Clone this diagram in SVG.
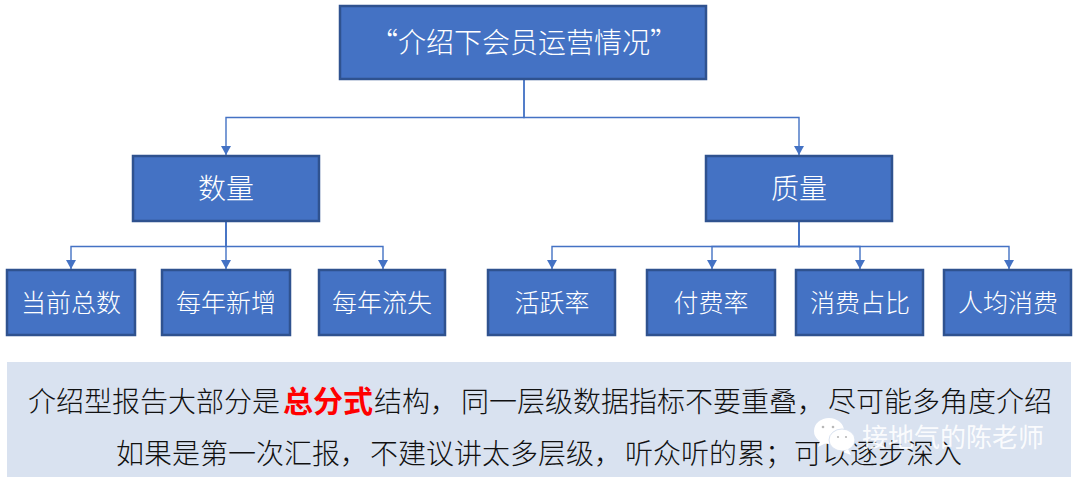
<svg xmlns="http://www.w3.org/2000/svg" width="1078" height="485" viewBox="0 0 1078 485">
<style>
.n{fill:#4472c4;stroke:#2f528f;stroke-width:2.5}
.t{fill:#fff;font-family:"Noto Sans CJK SC","Liberation Sans",sans-serif;text-anchor:middle;font-size:25px;font-weight:300}
.l{font-size:28px}
.c{fill:none;stroke:#4472c4;stroke-width:1.4}
.b{fill:#111;font-family:"Noto Sans CJK SC","Liberation Sans",sans-serif;font-size:28px;font-weight:300}
</style>
<defs><marker id="a" markerUnits="userSpaceOnUse" markerWidth="11" markerHeight="11" refX="9" refY="5" orient="auto"><path d="M0 0L9 5L0 10z" fill="#4472c4"/></marker></defs>
<rect width="1078" height="485" fill="#fff"/>
<g id="connectors">
<path class="c" marker-end="url(#a)" d="M524 79V117.500H226V155"/>
<path class="c" marker-end="url(#a)" d="M524 79V117.500H799V155"/>
<path class="c" marker-end="url(#a)" d="M226 221V246.500H71V269"/>
<path class="c" marker-end="url(#a)" d="M226 221V269"/>
<path class="c" marker-end="url(#a)" d="M226 221V246.500H383V269"/>
<path class="c" marker-end="url(#a)" d="M799 221V246.500H552V269"/>
<path class="c" marker-end="url(#a)" d="M799 221V246.500H712V269"/>
<path class="c" marker-end="url(#a)" d="M799 221V246.500H860V269"/>
<path class="c" marker-end="url(#a)" d="M799 221V246.500H1009V269"/>
</g>
<g id="root"><rect class="n" x="340" y="6" width="366" height="73"/><text class="t l" x="524" y="53">“介绍下会员运营情况”</text></g>
<g id="n-qty"><rect class="n" x="133" y="156" width="186" height="65"/><text class="t l" x="226" y="199">数量</text></g>
<g id="n-qual"><rect class="n" x="706" y="156" width="186" height="65"/><text class="t l" x="799" y="199">质量</text></g>
<g id="n1"><rect class="n" x="7" y="270" width="128" height="65"/><text class="t" x="71" y="312">当前总数</text></g>
<g id="n2"><rect class="n" x="162" y="270" width="128" height="65"/><text class="t" x="226" y="312">每年新增</text></g>
<g id="n3"><rect class="n" x="319" y="270" width="126" height="65"/><text class="t" x="382" y="312">每年流失</text></g>
<g id="n4"><rect class="n" x="488" y="270" width="127" height="65"/><text class="t" x="552" y="312">活跃率</text></g>
<g id="n5"><rect class="n" x="647" y="270" width="128" height="65"/><text class="t" x="711" y="312">付费率</text></g>
<g id="n6"><rect class="n" x="796" y="270" width="127" height="65"/><text class="t" x="860" y="312">消费占比</text></g>
<g id="n7"><rect class="n" x="944" y="270" width="127" height="65"/><text class="t" x="1008" y="312">人均消费</text></g>
<g id="note">
<rect x="7" y="362" width="1064" height="115" fill="#d9e2f0"/>
<text class="b" y="412"><tspan x="28">介绍型报告大部分是</tspan><tspan x="283" fill="#ff0000" font-weight="700" font-size="30">总分式</tspan><tspan x="374">结构，</tspan><tspan x="461">同一层级数据指标不要重叠，</tspan><tspan x="828">尽可能多角度介绍</tspan></text>
<text class="b" y="464"><tspan x="116">如果是第一次汇报，</tspan><tspan x="370">不建议讲太多层级，</tspan><tspan x="625">听众听的累；</tspan><tspan x="794">可以逐步深入</tspan></text>
</g>
<g id="watermark">
<ellipse cx="829" cy="431" rx="15" ry="13" fill="#fff"/>
<path d="M820 441l-2 6 8-4z" fill="#fff"/>
<ellipse cx="842" cy="440" rx="13" ry="11" fill="#fff" stroke="#d9e2f0"/>
<path d="M848 449l3 6-8-3z" fill="#fff"/>
<circle cx="823" cy="427" r="1.300" fill="#b8b8b8"/><circle cx="833" cy="427" r="1.300" fill="#b8b8b8"/>
<circle cx="838" cy="437" r="1.100" fill="#b8b8b8"/><circle cx="846" cy="437" r="1.100" fill="#b8b8b8"/>
<text x="862" y="447" font-family="'Noto Sans CJK SC',sans-serif" font-size="26px" font-weight="400" fill="#fff" fill-opacity=".9">接地气的陈老师</text>
</g>
</svg>
